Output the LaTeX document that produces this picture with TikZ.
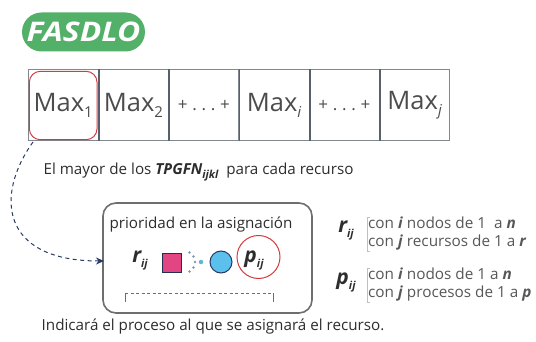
\documentclass[tikz,border=0pt]{standalone}
\usepackage{fontspec}
\setmainfont{Open Sans}
\usetikzlibrary{arrows.meta,fit}
\definecolor{pillgreen}{RGB}{82,176,104}
\definecolor{gridline}{RGB}{88,96,110}
\definecolor{outerline}{RGB}{130,136,145}
\definecolor{selred}{RGB}{214,58,62}
\definecolor{pinkfill}{RGB}{226,70,130}
\definecolor{bluefill}{RGB}{92,192,236}
\definecolor{navy}{RGB}{40,58,100}
\definecolor{txt}{RGB}{45,45,45}
\definecolor{boxgray}{RGB}{110,110,110}
\definecolor{dotgray}{RGB}{130,150,175}
\newcommand\maxsub[1]{Max\raisebox{-6pt}{\fontsize{15}{15}\selectfont #1}}
\newcommand\bi[1]{\textbf{\textit{#1}}}
\begin{document}
\begin{tikzpicture}[x=1pt,y=-1pt,
  cell/.style={draw=outerline,line width=1pt,minimum width=70.3pt,minimum height=71pt,inner sep=0pt,text=txt!85,font=\fontsize{25.5}{28}\selectfont},
  dotscell/.style={cell,font=\fontsize{17}{18}\selectfont},
  sepline/.style={draw=gridline,line width=1.6pt},
  pill/.style={fill=pillgreen,rounded corners=19.5pt,minimum width=123pt,minimum height=39pt,text=white,font=\fontsize{27}{30}\selectfont\bfseries\itshape},
  bodytext/.style={text=txt,font=\fontsize{15.2}{18}\selectfont,inner sep=0pt},
  sidetext/.style={text=txt!80,font=\fontsize{15.3}{18}\selectfont,align=left,inner sep=0pt},
  bigvar/.style={text=txt,font=\fontsize{21}{21}\selectfont\bfseries\itshape,inner sep=0pt},
  redmark/.style={draw=selred,line width=1pt}
]
\useasboundingbox (0,0) rectangle (536,342);
\node[pill] (title) at (83.5,32) {\scalebox{1.18}[1]{FASDLO}};
% table
\node[cell] (c1) at (63.2,105.5) {\maxsub{1}};
\node[cell] (c2) at (133.5,105.5) {\maxsub{2}};
\node[dotscell] (c3) at (203.8,105.5) {+\;.\;.\;.\;+};
\node[cell] (c4) at (274.1,105.5) {\maxsub{\textit{i}}};
\node[dotscell] (c5) at (344.4,105.5) {+\;.\;.\;.\;+};
\node[cell] (c6) at (414.7,105.5) {\maxsub{\textit{j}}};
\foreach \a in {1,...,5}{\draw[sepline] (c\a.north east) -- (c\a.south east);}
\node[redmark,rounded corners=11pt,fit=(c1),inner sep=-1.8pt] (sel) {};
% description
\node[bodytext] (desc) at (198.5,172) {El mayor de los \bi{TPGFN}\raisebox{-3.5pt}{\fontsize{11}{11}\selectfont\bfseries\itshape ijkl}\ \ para cada recurso};
% priority box
\node[draw=boxgray,line width=1.6pt,rounded corners=13pt,minimum width=209pt,minimum height=110pt] (prio) at (207.5,258) {};
\node[bodytext] (ptitle) at (201,225) {prioridad en la asignación};
\node[bigvar] (r) at (140,260) {r\raisebox{-5pt}{\fontsize{11}{11}\selectfont ij}};
\node[draw=navy!80!black,fill=pinkfill,minimum size=19pt,inner sep=0pt,line width=0.8pt] (sq) at (171.5,263) {};
\foreach \ang in {-60,-30,0,30,60}{\fill[dotgray] (184,262) ++(\ang:11) circle (1.4);}
\node[circle,fill=bluefill!80!gray,inner sep=0pt,minimum size=4.5pt] (bd) at (201,262) {};
\node[circle,draw=navy,fill=bluefill,minimum size=22pt,inner sep=0pt,line width=1pt] (ci) at (221,262) {};
\node[bigvar] (p) at (254,260) {p\raisebox{-5pt}{\fontsize{11}{11}\selectfont ij}};
\node[circle,redmark,minimum size=43pt,inner sep=0pt] (pc) at (258.5,257) {};
\coordinate (bl) at (125,293);
\coordinate (br) at (273,293);
\draw[boxgray,line width=0.7pt] ([yshift=-9pt]bl) -- (bl);
\draw[boxgray,line width=0.7pt] ([yshift=-9pt]br) -- (br);
\draw[boxgray,line width=0.7pt,dash pattern=on 3pt off 2.5pt] (bl) -- (br);
% connector
\coordinate (start) at (33,142);
\coordinate (end) at (104,261);
\draw[navy,line width=1pt,dash pattern=on 4pt off 3.5pt,-{Stealth[length=8pt,width=7pt]}] (start) .. controls (-5,195) and (0,261) .. (end);
% right legend
\node[bigvar] (r2) at (346,230) {r\raisebox{-5pt}{\fontsize{11}{11}\selectfont ij}};
\node[sidetext,anchor=west] (rl) at (368,234) {con \bi{i} nodos de 1 \ a \bi{n}\\con \bi{j} recursos de 1 a \bi{r}};
\draw[gray!50,line width=0.6pt] ([xshift=2pt]rl.north west) -- ++(-3,0) -- ([xshift=-1pt]rl.south west) -- ++(3,0);
\node[bigvar] (p2) at (346,282) {p\raisebox{-5pt}{\fontsize{11}{11}\selectfont ij}};
\node[sidetext,anchor=west] (pl) at (368,285) {con \bi{i} nodos de 1 a \bi{n}\\con \bi{j} procesos de 1 a \bi{p}};
\draw[gray!50,line width=0.6pt] ([xshift=2pt]pl.north west) -- ++(-3,0) -- ([xshift=-1pt]pl.south west) -- ++(3,0);
% bottom
\node[bodytext] (note) at (213,327) {Indicará el proceso al que se asignará el recurso.};
\end{tikzpicture}
\end{document}
